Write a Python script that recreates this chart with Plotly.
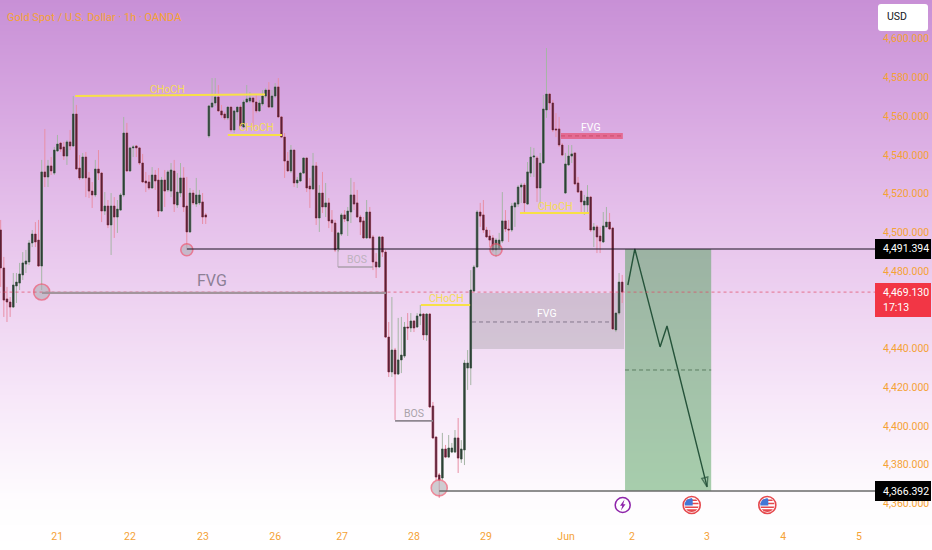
import numpy as np
import plotly.graph_objects as go

W, H = 932, 550
FONT = "Roboto, Open Sans, sans-serif"
ORANGE = "#f5a235"

# hourly bars
opens = [
    4501.2, 4481.6, 4465.6, 4464.0, 4461.4, 4472.3, 4473.8, 4478.0, 4483.6, 4484.7,
    4494.5, 4499.1, 4496.0, 4482.6, 4531.2, 4528.6, 4534.3, 4530.6, 4542.0, 4546.1,
    4544.1, 4539.4, 4546.7, 4544.6, 4561.1, 4533.2, 4528.1, 4538.9, 4528.1, 4521.3,
    4519.3, 4532.7, 4530.6, 4511.0, 4513.6, 4503.8, 4513.6, 4507.9, 4511.5, 4519.3,
    4551.3, 4531.7, 4543.6, 4544.6, 4543.6, 4535.8, 4526.5, 4526.0, 4522.9, 4529.6,
    4527.0, 4511.0, 4527.0, 4521.9, 4521.3, 4531.7, 4514.1, 4520.3, 4528.1, 4513.6,
    4500.2, 4520.3, 4514.6, 4515.2, 4515.7, 4509.0, 4549.8, 4564.7, 4566.8, 4569.9,
    4562.7, 4561.1, 4559.1, 4564.7, 4552.9, 4562.2, 4564.7, 4554.4, 4567.3, 4567.8,
    4569.4, 4567.3, 4562.7, 4566.3, 4570.4, 4573.5, 4564.7, 4570.4, 4575.1, 4559.6,
    4549.2, 4536.8, 4531.7, 4542.5, 4525.5, 4526.5, 4530.6, 4538.4, 4523.9, 4522.4,
    4534.3, 4507.4, 4520.3, 4513.1, 4515.2, 4506.4, 4504.8, 4490.9, 4499.1, 4509.0,
    4505.9, 4510.5, 4519.3, 4515.2, 4507.9, 4505.9, 4497.1, 4510.5, 4497.6, 4484.7,
    4482.1, 4497.6, 4489.8, 4445.9, 4427.9, 4439.2, 4426.8, 4434.1, 4436.1, 4451.1,
    4450.6, 4454.2, 4451.1, 4456.8, 4457.8, 4447.0, 4457.8, 4410.3, 4394.3, 4374.7,
    4373.1, 4388.1, 4383.9, 4386.5, 4386.5, 4393.8, 4382.9, 4387.6, 4429.9, 4429.9,
    4469.7, 4482.1, 4510.5, 4509.0, 4501.2, 4498.1, 4497.1, 4490.9, 4491.9, 4495.5,
    4505.9, 4501.7, 4501.2, 4513.1, 4514.6, 4523.4, 4524.4, 4514.6, 4530.6, 4538.9,
    4538.4, 4522.9, 4535.8, 4563.2, 4571.4, 4566.8, 4553.4, 4553.4, 4545.1, 4520.3,
    4534.8, 4539.4, 4541.0, 4525.5, 4521.3, 4514.1, 4514.1, 4518.2, 4501.2, 4502.8,
    4498.1, 4495.0, 4502.8, 4505.3, 4502.2, 4449.6, 4458.3, 4474.3,
]
highs = [
    4506.4, 4487.3, 4471.8, 4466.6, 4479.0, 4479.0, 4484.2, 4489.8, 4490.9, 4496.0,
    4501.2, 4505.3, 4506.4, 4537.4, 4553.4, 4537.4, 4538.9, 4544.1, 4550.3, 4546.7,
    4546.7, 4547.7, 4552.9, 4570.4, 4565.8, 4539.9, 4541.0, 4541.5, 4531.2, 4526.0,
    4537.4, 4542.5, 4531.2, 4520.8, 4516.7, 4520.3, 4518.2, 4516.7, 4520.3, 4559.6,
    4556.5, 4544.1, 4545.1, 4545.1, 4544.1, 4540.5, 4531.2, 4529.6, 4533.7, 4532.2,
    4533.2, 4528.6, 4532.2, 4532.2, 4535.8, 4537.4, 4530.6, 4535.8, 4533.7, 4528.6,
    4522.9, 4521.9, 4528.1, 4521.9, 4520.3, 4510.0, 4565.8, 4579.7, 4579.7, 4576.1,
    4565.8, 4562.2, 4564.7, 4564.7, 4563.2, 4564.7, 4565.8, 4568.4, 4576.1, 4572.5,
    4569.4, 4570.9, 4568.4, 4573.5, 4574.5, 4577.6, 4573.5, 4577.1, 4579.7, 4560.1,
    4551.3, 4541.5, 4545.1, 4542.5, 4528.6, 4531.2, 4538.4, 4538.4, 4528.1, 4541.0,
    4536.3, 4524.4, 4531.2, 4525.5, 4517.7, 4511.5, 4506.4, 4500.2, 4510.0, 4511.5,
    4513.1, 4528.1, 4526.0, 4521.9, 4509.0, 4507.9, 4516.7, 4513.1, 4498.6, 4489.3,
    4498.1, 4498.1, 4490.9, 4453.7, 4466.6, 4440.3, 4455.8, 4456.3, 4453.7, 4458.3,
    4458.3, 4454.7, 4458.3, 4462.5, 4458.3, 4458.3, 4458.3, 4412.4, 4394.3, 4375.7,
    4396.4, 4390.2, 4395.3, 4391.2, 4397.9, 4404.1, 4392.7, 4434.1, 4439.2, 4480.5,
    4483.1, 4511.5, 4515.2, 4516.7, 4502.8, 4501.2, 4498.6, 4497.1, 4499.7, 4520.8,
    4511.5, 4506.4, 4515.2, 4515.7, 4524.4, 4525.5, 4525.5, 4536.3, 4544.1, 4543.6,
    4539.4, 4541.0, 4570.9, 4595.2, 4572.0, 4568.4, 4561.6, 4559.6, 4546.1, 4541.0,
    4545.1, 4545.1, 4541.0, 4528.6, 4521.9, 4519.3, 4524.4, 4518.8, 4504.8, 4503.8,
    4502.8, 4510.5, 4513.1, 4510.0, 4502.8, 4458.3, 4479.0, 4478.0,
]
lows = [
    4471.8, 4456.3, 4453.7, 4456.3, 4460.9, 4463.5, 4470.2, 4475.4, 4479.0, 4483.1,
    4492.4, 4492.4, 4482.1, 4470.2, 4523.4, 4523.4, 4529.6, 4529.6, 4541.5, 4541.5,
    4537.4, 4534.8, 4542.5, 4544.1, 4532.2, 4527.0, 4527.5, 4518.2, 4517.7, 4512.6,
    4518.2, 4527.0, 4505.3, 4509.0, 4502.2, 4488.3, 4497.1, 4499.7, 4511.0, 4518.2,
    4531.2, 4531.2, 4538.9, 4538.9, 4534.8, 4525.5, 4520.8, 4521.9, 4522.4, 4521.9,
    4507.9, 4510.5, 4513.1, 4520.8, 4518.2, 4510.5, 4512.6, 4518.2, 4510.5, 4491.9,
    4499.7, 4514.1, 4513.1, 4514.1, 4504.3, 4504.3, 4548.7, 4564.2, 4565.3, 4562.2,
    4559.1, 4558.0, 4558.0, 4551.8, 4551.3, 4558.0, 4554.4, 4553.9, 4566.8, 4566.8,
    4554.4, 4561.6, 4562.2, 4565.3, 4569.4, 4564.2, 4564.2, 4569.4, 4559.1, 4548.7,
    4528.1, 4531.2, 4530.6, 4523.4, 4522.9, 4526.0, 4530.1, 4520.8, 4512.6, 4521.9,
    4503.8, 4500.2, 4510.0, 4507.9, 4502.2, 4500.2, 4489.8, 4489.8, 4498.1, 4505.3,
    4498.1, 4504.8, 4511.5, 4507.4, 4498.6, 4496.6, 4496.6, 4496.6, 4480.5, 4476.4,
    4481.6, 4487.3, 4445.4, 4425.3, 4425.3, 4403.1, 4426.3, 4427.3, 4435.1, 4444.4,
    4448.5, 4448.5, 4450.6, 4452.1, 4444.4, 4443.9, 4409.3, 4393.3, 4372.1, 4362.8,
    4372.1, 4383.4, 4383.4, 4386.0, 4386.0, 4375.7, 4380.9, 4379.8, 4418.6, 4421.1,
    4469.2, 4481.6, 4502.8, 4499.7, 4497.1, 4492.4, 4489.8, 4487.3, 4490.9, 4494.5,
    4500.2, 4495.0, 4500.2, 4502.8, 4513.1, 4515.2, 4510.0, 4514.1, 4528.6, 4528.6,
    4515.7, 4513.1, 4535.3, 4559.1, 4563.2, 4551.8, 4549.2, 4544.1, 4539.4, 4519.8,
    4534.3, 4535.8, 4524.4, 4520.3, 4510.0, 4509.0, 4510.0, 4500.2, 4492.4, 4489.3,
    4489.3, 4494.5, 4502.8, 4501.2, 4449.6, 4448.5, 4457.3, 4463.5,
]
closes = [
    4481.6, 4465.0, 4464.0, 4461.4, 4472.8, 4474.3, 4478.5, 4484.2, 4485.2, 4494.5,
    4499.1, 4495.0, 4482.6, 4531.2, 4528.6, 4534.3, 4531.7, 4542.5, 4545.6, 4543.0,
    4539.4, 4546.7, 4544.6, 4561.1, 4532.7, 4528.1, 4538.9, 4528.1, 4521.3, 4519.3,
    4532.7, 4530.6, 4511.0, 4513.6, 4503.8, 4513.6, 4507.9, 4512.0, 4519.3, 4551.3,
    4531.7, 4543.6, 4544.1, 4543.6, 4535.8, 4526.0, 4525.5, 4522.9, 4529.6, 4526.5,
    4511.0, 4527.0, 4521.3, 4531.2, 4532.2, 4514.6, 4520.8, 4528.1, 4513.1, 4500.2,
    4520.3, 4515.2, 4519.3, 4519.3, 4507.9, 4507.9, 4565.3, 4566.8, 4569.9, 4562.7,
    4560.6, 4559.1, 4564.7, 4552.9, 4562.7, 4564.7, 4554.9, 4567.3, 4568.9, 4569.4,
    4567.3, 4562.7, 4566.8, 4570.4, 4573.5, 4564.7, 4570.4, 4575.1, 4559.6, 4549.2,
    4536.8, 4531.7, 4542.5, 4525.5, 4527.0, 4530.6, 4538.4, 4522.9, 4522.4, 4534.3,
    4507.4, 4520.3, 4513.1, 4515.2, 4505.9, 4504.8, 4490.9, 4499.7, 4509.0, 4506.9,
    4511.0, 4519.3, 4514.6, 4507.9, 4505.3, 4497.1, 4510.5, 4497.1, 4484.7, 4482.1,
    4497.6, 4489.8, 4445.9, 4427.9, 4439.2, 4426.8, 4434.1, 4436.6, 4451.1, 4450.6,
    4454.2, 4450.6, 4456.8, 4457.8, 4447.0, 4457.8, 4409.8, 4393.8, 4373.6, 4372.1,
    4388.1, 4383.9, 4388.6, 4388.6, 4393.8, 4383.4, 4388.1, 4432.5, 4432.5, 4470.2,
    4482.1, 4510.5, 4508.4, 4501.2, 4497.6, 4496.0, 4490.9, 4496.0, 4496.0, 4505.9,
    4501.7, 4501.2, 4513.6, 4515.2, 4523.4, 4524.4, 4515.2, 4531.2, 4538.9, 4539.4,
    4522.9, 4535.8, 4563.7, 4571.4, 4566.8, 4552.9, 4552.9, 4545.1, 4539.9, 4535.3,
    4539.4, 4540.5, 4525.0, 4520.8, 4515.7, 4516.2, 4518.2, 4501.2, 4502.8, 4497.6,
    4495.5, 4503.3, 4505.3, 4501.7, 4450.1, 4458.3, 4474.3, 4469.13,
]

# axis labels, 4,460 sits behind the last price box so it is left out
price_ticks = [4600, 4580, 4560, 4540, 4520, 4500, 4480, 4440, 4420, 4400, 4380, 4360]
price_labels = [f"{p:,.3f}" for p in price_ticks]
day_ticks = [17.9, 41.0, 64.1, 87.0, 108.2, 131.0, 153.8, 179.2, 200.1, 223.9, 248.0, 272.0]
day_labels = ["21", "22", "23", "26", "27", "28", "29", "Jun", "2", "3", "4", "5"]

# levels drawn on the chart
entry_level = 4491.394
target_level = 4366.392
last_price = 4469.13
pivot_bars = [13, 59, 157, 139]
pivot_prices = [4469.2, 4491.0, 4491.0, 4368.0]
plan_bars = [198.8, 201.0, 209.0, 211.2, 223.9]
plan_prices = [4472.8, 4491.4, 4440.8, 4451.6, 4368.5]

# background gradient, top to bottom of the page
bg_stops = [0.0, 0.18, 0.36, 0.55, 0.73, 0.91, 1.0]
bg_colors = ["#c890d6", "#d6a5e0", "#e3bce9", "#eed3f1", "#f7e8f9", "#fefcfe", "#ffffff"]

# main chart geometry in page pixels
LEFT_BAR_PX = 0.67
PX_PER_BAR = 3.155
PLOT_R = 875
PLOT_B = 515
PRICE_TOP = 4620.0
PX_PER_USD = 1 / 0.5165


def px(x):
    return x / W


def py(y):
    return 1 - y / H


fig = go.Figure()

grad = np.linspace(0, 1, 276)
fig.add_trace(go.Heatmap(
    x=[0, 1], y=grad, z=[[v, v] for v in grad],
    colorscale=[[s, c] for s, c in zip(bg_stops, bg_colors)],
    zmin=0, zmax=1, showscale=False, hoverinfo="skip",
))

bars = list(range(len(opens)))
# wicks are paler than the bodies, so the bars are two candlestick traces
fig.add_trace(go.Candlestick(
    x=bars, open=opens, high=highs, low=lows, close=closes,
    xaxis="x2", yaxis="y2", whiskerwidth=0, hoverinfo="skip",
    increasing=dict(line=dict(color="#a6b5a6", width=1), fillcolor="#a6b5a6"),
    decreasing=dict(line=dict(color="#e88fa6", width=1), fillcolor="#e88fa6"),
))
body_top = [max(o, c) for o, c in zip(opens, closes)]
body_low = [min(o, c) for o, c in zip(opens, closes)]
fig.add_trace(go.Candlestick(
    x=bars, open=opens, high=body_top, low=body_low, close=closes,
    xaxis="x2", yaxis="y2", whiskerwidth=0, hoverinfo="skip",
    increasing=dict(line=dict(color="#2e4238", width=0.5), fillcolor="#2e4238"),
    decreasing=dict(line=dict(color="#5c2136", width=0.5), fillcolor="#5c2136"),
))

fig.add_trace(go.Scatter(
    x=plan_bars, y=plan_prices, mode="lines+markers", xaxis="x2", yaxis="y2", hoverinfo="skip",
    line=dict(color="#25533a", width=1.4),
    marker=dict(symbol="arrow-open", angleref="previous", size=[0, 0, 0, 0, 10], color="#25533a",
                line=dict(color="#25533a", width=1.4)),
))
fig.add_trace(go.Scatter(
    x=pivot_bars, y=pivot_prices, mode="markers", xaxis="x2", yaxis="y2", hoverinfo="skip",
    marker=dict(size=[16, 12, 12, 16], color="rgba(175,175,180,0.85)",
                line=dict(color="#e8596f", width=1.6)),
))

shapes = []


def zone(x0, x1, y0, y1, color, layer="below"):
    shapes.append(dict(type="rect", xref="x2", yref="y2", x0=x0, x1=x1, y0=y0, y1=y1,
                       fillcolor=color, line_width=0, layer=layer))


def seg(x0, x1, y0, y1, color, width=1, dash="solid", layer="above"):
    shapes.append(dict(type="line", xref="x2", yref="y2", x0=x0, x1=x1, y0=y0, y1=y1,
                       line=dict(color=color, width=width, dash=dash), layer=layer))


axis_end = (PLOT_R - LEFT_BAR_PX) / PX_PER_BAR

zone(149.4, 197.6, 4468.7, 4439.7, "rgba(150,150,150,0.33)")
seg(149.4, 193.8, 4453.7, 4453.7, "#85788c", 1, "4px,3px")
zone(197.9, 225.2, entry_level, target_level, "rgba(70,155,80,0.47)")
seg(197.9, 225.2, 4428.9, 4428.9, "#5c7d62", 1, "4px,3px")
zone(177.6, 197.2, 4551.3, 4548.2, "rgba(232,80,115,0.72)")
seg(177.6, 197.2, 4549.8, 4549.8, "#c8506e", 1, "4px,3px")

seg(-1, axis_end, last_price, last_price, "rgba(225,70,100,0.7)", 1, "dot")
seg(13.1, 122.1, 4468.7, 4468.7, "#a3949c", 2.2)
seg(59, axis_end, entry_level, entry_level, "#1c1222", 1.2)
seg(139, axis_end, target_level, target_level, "#6a6a6a", 1.6)

# structure labels
yellow = "#f7e047"
seg(23.6, 83.8, 4570.4, 4571.2, yellow, 2)
seg(72.0, 89.2, 4550.3, 4550.3, yellow, 2)
seg(133.2, 148.8, 4462.5, 4462.5, yellow, 2)
seg(164.6, 186.5, 4510.0, 4510.0, yellow, 2)
seg(106.9, 106.9, 4491.4, 4482.1, "#b5a8b5", 1)
seg(106.9, 118.0, 4482.1, 4482.1, "#ab9fab", 1.6)
seg(125.0, 137.0, 4402.6, 4402.6, "#8f8790", 1.6)


def rounded(x0, y0, x1, y1, r):
    a, b, c, d = px(x0), py(y0), px(x1), py(y1)
    rx, ry = px(r), r / H
    return (f"M{a + rx},{b} L{c - rx},{b} Q{c},{b} {c},{b - ry} L{c},{d + ry} Q{c},{d} {c - rx},{d} "
            f"L{a + rx},{d} Q{a},{d} {a},{d + ry} L{a},{b - ry} Q{a},{b} {a + rx},{b} Z")


def page_shape(path, fill, line=None, width=0):
    shapes.append(dict(type="path", xref="paper", yref="paper", path=path, fillcolor=fill,
                       line=dict(color=line or fill, width=width), layer="above"))


def page_rect(x0, y0, x1, y1, fill):
    shapes.append(dict(type="rect", xref="paper", yref="paper", x0=px(x0), x1=px(x1), y0=py(y0), y1=py(y1),
                       fillcolor=fill, line_width=0, layer="above"))


def page_circle(cx, cy, r, fill, line, width):
    shapes.append(dict(type="circle", xref="paper", yref="paper", x0=px(cx - r), x1=px(cx + r),
                       y0=py(cy - r), y1=py(cy + r), fillcolor=fill,
                       line=dict(color=line, width=width), layer="above"))


def polygon(points):
    return "M" + " L".join(f"{px(x)},{py(y)}" for x, y in points) + " Z"


def flag(cx, cy, r=7):
    # little US flag in a ring
    page_circle(cx, cy, r + 1.5, "#ffffff", "#e5484d", 1.6)

    def band(dy0, dy1, xmax=None):
        pts = []
        ys = np.linspace(dy0, dy1, 6)
        for dy in ys:
            half = np.sqrt(max(r * r - dy * dy, 0))
            pts.append((cx + (half if xmax is None else min(half, xmax)), cy + dy))
        for dy in ys[::-1]:
            half = np.sqrt(max(r * r - dy * dy, 0))
            pts.append((cx - half, cy + dy))
        return polygon(pts)

    page_shape(band(-5.5, -4.0), "#e5484d")
    page_shape(band(-2.2, -0.8), "#e5484d")
    page_shape(band(1.5, 3.0), "#e5484d")
    page_shape(band(4.2, 7.0), "#e5484d")
    page_shape(band(-7.0, 0.5, 1.0), "#4377d6")


# top right currency button
page_shape(rounded(878, 4, 928, 31, 3), "#ffffff")

# price boxes on the axis
page_rect(875, 239, 931, 259, "#000000")
page_rect(875, 481, 931, 501, "#000000")
page_rect(875, 283, 931, 317, "#f23645")

# calendar events under the chart
page_circle(622.7, 505, 7.5, "#ffffff", "#8e24aa", 1.5)
page_shape(polygon([(624.5, 499.5), (620, 505.8), (622.3, 505.8), (621, 510.5),
                    (625.5, 504.2), (623.2, 504.2)]), "#8e24aa")
flag(691.7, 505)
flag(767.3, 505)

notes = []


def chart_text(bar, price, text, color, size=10.5):
    notes.append(dict(x=bar, y=price, xref="x2", yref="y2", text=text, showarrow=False,
                      xanchor="center", yanchor="middle",
                      font=dict(family=FONT, size=size, color=color)))


def page_text(x, y, text, color, size=10.5, anchor="center"):
    notes.append(dict(x=px(x), y=py(y), xref="paper", yref="paper", text=text, showarrow=False,
                      xanchor=anchor, yanchor="middle", xshift=-1,
                      font=dict(family=FONT, size=size, color=color)))


chart_text(53.0, 4574.0, "CHoCH", "#f5dc55")
chart_text(81.0, 4553.9, "CHoCH", "#f5dc55")
chart_text(141.2, 4466.0, "CHoCH", "#f5dc55")
chart_text(175.7, 4513.6, "CHoCH", "#f5dc55")
chart_text(67.0, 4474.9, "FVG", "#8d8096", 16)
chart_text(173.2, 4458.3, "FVG", "#ffffff")
chart_text(187.0, 4553.9, "FVG", "#ffffff")
chart_text(113.0, 4485.8, "BOS", "#bdb2bd")
chart_text(131.0, 4406.2, "BOS", "#a9a3aa")

page_text(6, 18, "Gold Spot / U.S. Dollar · 1h · OANDA", ORANGE, 11, "left")
page_text(886, 17, "USD", "#131722", 10.5, "left")
page_text(882, 249, "4,491.394", "#ffffff", 10.5, "left")
page_text(882, 491, "4,366.392", "#ffffff", 10.5, "left")
page_text(882, 292, "4,469.130", "#ffffff", 10.5, "left")
page_text(882, 307, "17:13", "#ffffff", 10.5, "left")

price_bottom = PRICE_TOP - PLOT_B / PX_PER_USD

fig.update_layout(
    width=W, height=H,
    margin=dict(l=0, r=0, t=0, b=0),
    paper_bgcolor="#ffffff",
    plot_bgcolor="rgba(0,0,0,0)",
    showlegend=False,
    shapes=shapes,
    annotations=notes,
    xaxis=dict(domain=[0, 1], range=[0, 1], visible=False, fixedrange=True),
    yaxis=dict(domain=[0, 1], range=[1, 0], visible=False, fixedrange=True),
    xaxis2=dict(
        domain=[0, PLOT_R / W], anchor="y2",
        range=[-LEFT_BAR_PX / PX_PER_BAR, axis_end],
        tickmode="array", tickvals=day_ticks, ticktext=day_labels,
        tickfont=dict(family=FONT, size=10.5, color=ORANGE),
        ticks="outside", ticklen=11, tickcolor="rgba(0,0,0,0)",
        showgrid=False, zeroline=False, showline=False,
        rangeslider=dict(visible=False),
    ),
    yaxis2=dict(
        domain=[1 - PLOT_B / H, 1], anchor="x2", side="right",
        range=[price_bottom, PRICE_TOP],
        tickmode="array", tickvals=price_ticks, ticktext=price_labels,
        tickfont=dict(family=FONT, size=10.5, color=ORANGE),
        ticks="outside", ticklen=5, tickcolor="rgba(0,0,0,0)",
        showgrid=False, zeroline=False, showline=False,
    ),
)

# the page is exactly the window, no default body margin
fig.write_html(
    "out.html",
    config=dict(displayModeBar=False),
    post_script="document.body.style.margin='0';document.body.style.overflow='hidden';",
)
